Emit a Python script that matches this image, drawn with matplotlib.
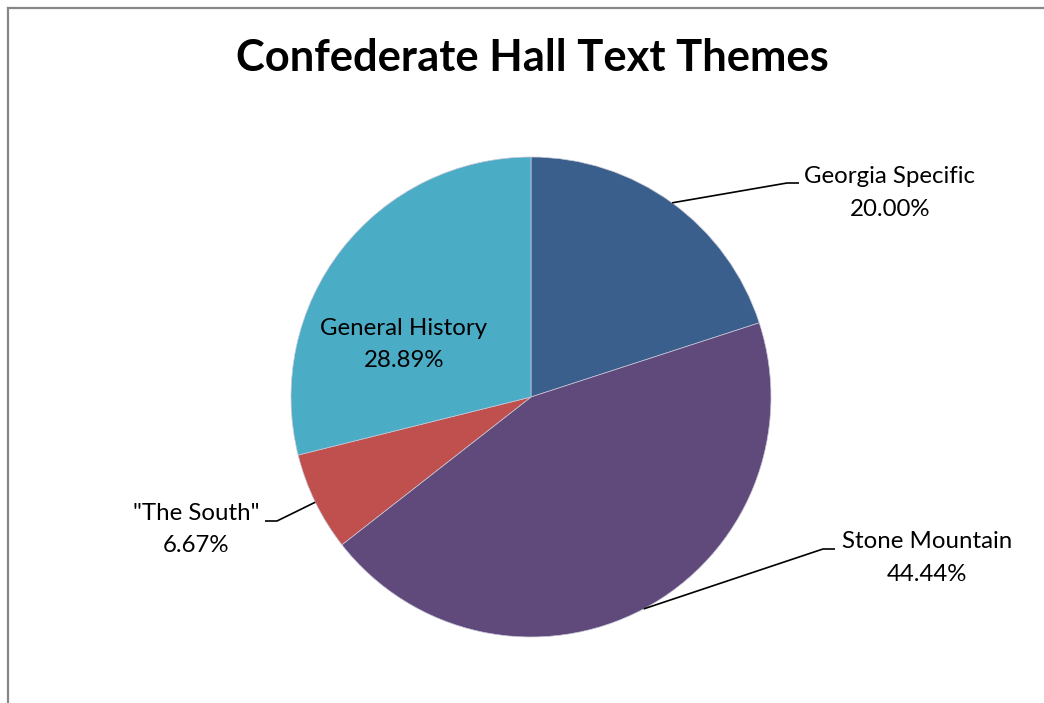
import matplotlib
matplotlib.use("Agg")
import matplotlib.pyplot as plt
from matplotlib.lines import Line2D
import numpy as np

plt.rcParams['font.family'] = ['Lato', 'DejaVu Sans']

# Theme counts
categories = ["Georgia Specific", "Stone Mountain", "\"The South\"", "General History"]
counts = [9, 20, 3, 13]
colors = ["#3A5F8C", "#604A7B", "#C0504D", "#4BACC6"]

W, H = 1044, 703
fig = plt.figure(figsize=(W / 100, H / 100), dpi=100)
ax = fig.add_axes([0, 0, 1, 1])

cx, cy, r = 531, H - 397, 240
ax.pie(counts, colors=colors, startangle=90, counterclock=False,
       center=(cx, cy), radius=r, frame=True,
       wedgeprops=dict(linewidth=0.5, edgecolor='#c8c8d8'))
ax.set_xlim(0, W)
ax.set_ylim(0, H)
ax.set_aspect('equal')
ax.axis('off')

total = sum(counts)
pcts = [100 * c / total for c in counts]

# mid angle of every wedge, for the leader lines
angles = []
start = 90
for p in pcts:
    end = start - p * 3.6
    angles.append((start + end) / 2)
    start = end


def edge_point(deg):
    t = np.deg2rad(deg)
    return cx + r * np.cos(t), cy + r * np.sin(t)


def label_text(i):
    return f"{categories[i]}\n{pcts[i]:.2f}%"


text_kw = dict(fontsize=17.3, ha='center', va='center', linespacing=1.65, color='black')
line_kw = dict(color='black', lw=1.2, solid_capstyle='butt')

# Georgia Specific
x0, y0 = edge_point(angles[0])
ax.plot([x0, 787, 799], [y0, H - 183, H - 183], **line_kw)
ax.text(890, H - 193, label_text(0), **text_kw)

# Stone Mountain
x0, y0 = edge_point(angles[1])
ax.plot([x0, 823, 835], [y0, H - 549, H - 549], **line_kw)
ax.text(927, H - 558, label_text(1), **text_kw)

# "The South"
x0, y0 = edge_point(angles[2])
ax.plot([x0, 277, 265], [y0, H - 521, H - 521], **line_kw)
ax.text(196, H - 529.5, label_text(2), **text_kw)

# General History (inside its wedge)
ax.text(404, H - 344.5, label_text(3), **text_kw)

fig.text(532 / W, 1 - 58 / H, "Confederate Hall Text Themes", fontsize=31.3,
         fontweight='bold', ha='center', va='center')

# chart-area border (top and left edges)
fig.add_artist(Line2D([7.5 / W, 7.5 / W], [0, 1 - 7.5 / H], transform=fig.transFigure,
                      color='#878787', lw=1.6))
fig.add_artist(Line2D([7.5 / W, 1], [1 - 7.5 / H, 1 - 7.5 / H], transform=fig.transFigure,
                      color='#878787', lw=1.6))

fig.savefig("out.png", dpi=100, facecolor='white')
